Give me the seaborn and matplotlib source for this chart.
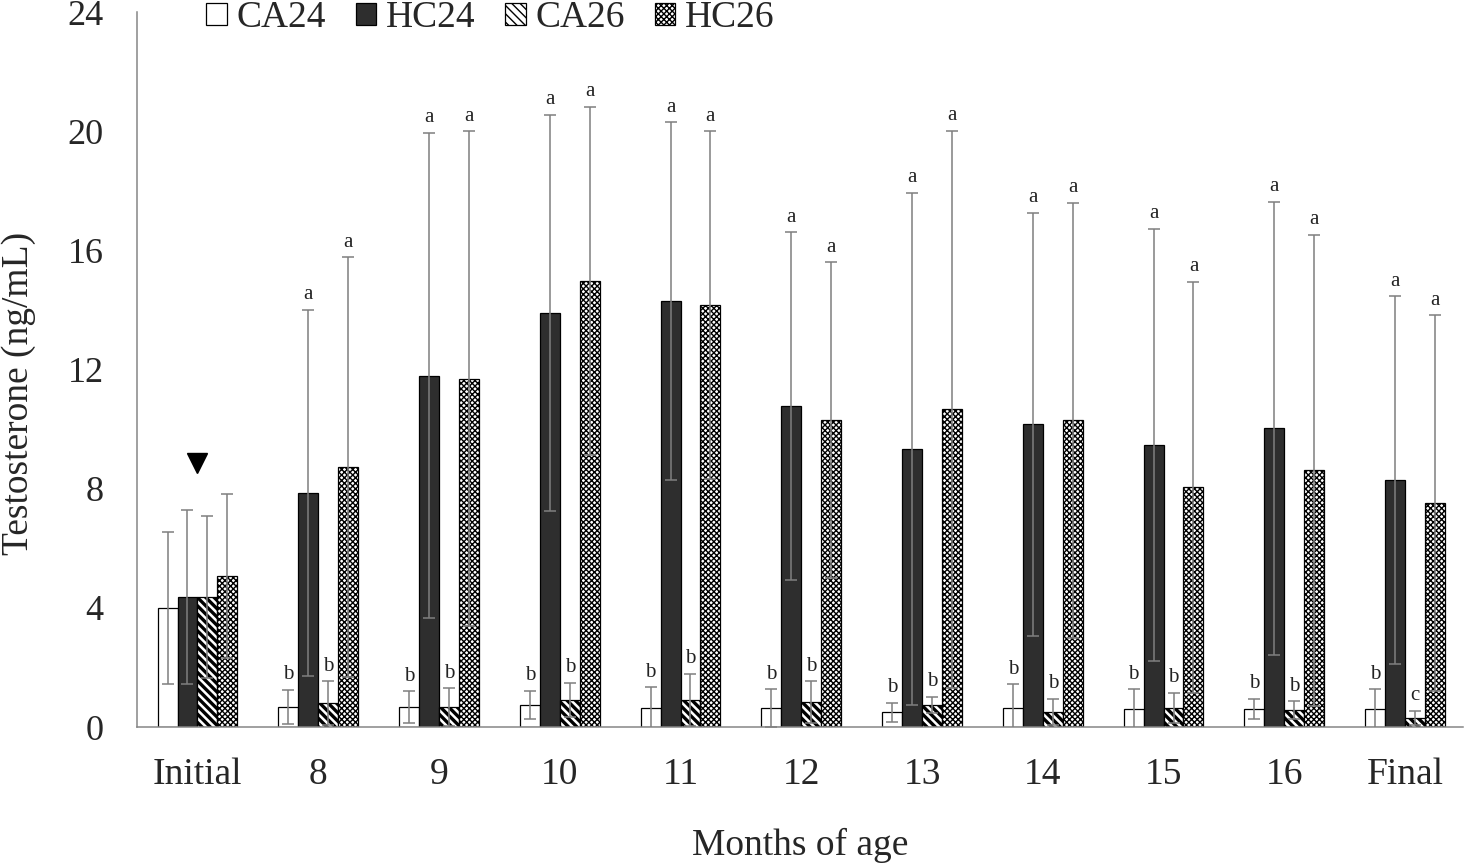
import matplotlib
matplotlib.use("Agg")
import matplotlib.pyplot as plt
import matplotlib.patches as mpatches
import pandas as pd
import seaborn as sns

meses = ["Initial", "8", "9", "10", "11", "12", "13", "14", "15", "16", "Final"]
grupos = ["CA24", "HC24", "CA26", "HC26"]

ca24 = [4.00, 0.67, 0.67, 0.74, 0.64, 0.64, 0.50, 0.64, 0.60, 0.60, 0.60]
hc24 = [4.36, 7.85, 11.80, 13.90, 14.30, 10.77, 9.33, 10.17, 9.46, 10.03, 8.29]
ca26 = [4.36, 0.80, 0.67, 0.90, 0.90, 0.84, 0.74, 0.50, 0.64, 0.57, 0.30]
hc26 = [5.07, 8.72, 11.70, 14.97, 14.16, 10.30, 10.67, 10.30, 8.05, 8.62, 7.52]

sd_ca24 = [2.55, 0.58, 0.53, 0.47, 0.70, 0.63, 0.32, 0.80, 0.67, 0.34, 0.67]
sd_hc24 = [2.93, 6.15, 8.15, 6.65, 6.00, 5.84, 8.60, 7.10, 7.26, 7.60, 6.17]
sd_ca26 = [2.72, 0.74, 0.63, 0.58, 0.88, 0.70, 0.28, 0.44, 0.50, 0.30, 0.24]
sd_hc26 = [2.75, 7.05, 8.30, 5.85, 5.84, 5.30, 9.35, 7.30, 6.90, 7.90, 6.30]

letras_ca24 = [""] + ["b"] * 10
letras_hc24 = [""] + ["a"] * 10
letras_ca26 = [""] + ["b"] * 9 + ["c"]
letras_hc26 = [""] + ["a"] * 10

medias = [ca24, hc24, ca26, hc26]
desvios = [sd_ca24, sd_hc24, sd_ca26, sd_hc26]
letras = [letras_ca24, letras_hc24, letras_ca26, letras_hc26]

colores = ["white", "#2e2e2e", "white", "white"]
tramas = ["", "", "\\\\\\\\", "xxxxxx"]
grosor_trama = [1.0, 1.0, 2.4, 1.0]

df = pd.DataFrame({
    "Mes": meses * len(grupos),
    "Grupo": [g for g in grupos for _ in meses],
    "Testosterona": ca24 + hc24 + ca26 + hc26,
})

sns.set_style("white")
plt.rcParams["font.family"] = ["Liberation Serif", "DejaVu Serif"]
plt.rcParams["hatch.color"] = "black"

fig = plt.figure(figsize=(14.66, 8.66), dpi=100)
ax = fig.add_axes([0.0935, 0.1605, 0.9045, 0.8255])

sns.barplot(
    data=df,
    x="Mes",
    y="Testosterona",
    hue="Grupo",
    hue_order=grupos,
    palette=colores,
    saturation=1,
    errorbar=None,
    width=0.66,
    gap=0,
    edgecolor="black",
    linewidth=0.9,
    legend=False,
    ax=ax,
)

gris = "#7f7f7f"
barras = list(ax.containers)
for i, container in enumerate(barras):
    for patch in container:
        patch.set_hatch(tramas[i])
        if hasattr(patch, "set_hatch_linewidth"):
            patch.set_hatch_linewidth(grosor_trama[i])
    xs = [p.get_x() + p.get_width() / 2 for p in container]
    ax.errorbar(xs, medias[i], yerr=desvios[i], fmt="none", ecolor=gris,
                elinewidth=1.1, capsize=4, capthick=1.1, zorder=5)
    for x, m, s, t in zip(xs, medias[i], desvios[i], letras[i]):
        if t:
            ax.annotate(t, xy=(x, m + s), xytext=(0, 4), textcoords="offset points",
                        ha="center", va="bottom", fontsize=15, color="#222222")

# triangulo sobre el grupo inicial
tope_inicial = max(m[0] + s[0] for m, s in zip(medias, desvios))
ax.plot(ax.get_xticks()[0], tope_inicial + 1.05, marker="v", color="black",
        markersize=15, linestyle="none", zorder=6)

ax.set_ylim(0, 24)
ax.set_yticks(range(0, 25, 4))
ax.set_xlim(-0.5, 10.48)
ax.tick_params(axis="both", length=0)
ax.tick_params(axis="x", labelsize=27, pad=22)
ax.tick_params(axis="y", labelsize=26, pad=24)
ax.set_xlabel("Months of age", fontsize=27, labelpad=26)
ax.set_ylabel("Testosterone (ng/mL)", fontsize=27)
ax.yaxis.set_label_coords(-0.076, 0.467)

sns.despine(top=True, right=True)
for lado in ["left", "bottom"]:
    ax.spines[lado].set_color("#868686")
    ax.spines[lado].set_linewidth(1.1)

handles = []
for g, c, t, lw in zip(grupos, colores, tramas, grosor_trama):
    h = mpatches.Patch(facecolor=c, edgecolor="black", hatch=t, linewidth=0.9, label=g)
    if hasattr(h, "set_hatch_linewidth"):
        h.set_hatch_linewidth(lw)
    handles.append(h)
fig.legend(handles=handles, loc="center left", bbox_to_anchor=(206 / 1466, 1 - 18 / 866),
           ncol=4, frameon=False, fontsize=27, handlelength=0.55, handleheight=0.55,
           handletextpad=0.25, columnspacing=0.8, borderpad=0, borderaxespad=0)

plt.savefig("out.png", dpi=100)
plt.close()
